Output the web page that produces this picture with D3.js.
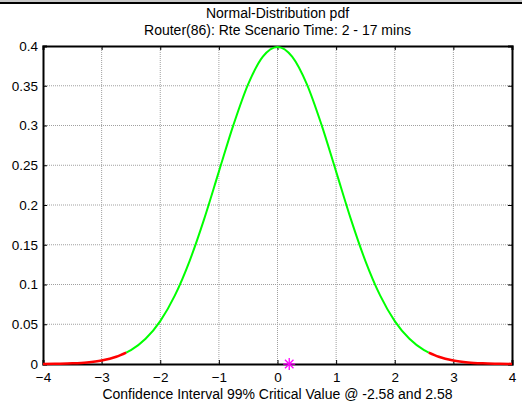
<!DOCTYPE html>
<html>
<head>
<meta charset="utf-8">
<script src="https://cdn.jsdelivr.net/npm/d3@7"></script>
<style>
  body { margin: 0; background: #fff; }
  svg { display: block; font-family: "Liberation Sans", Arial, sans-serif; }
</style>
</head>
<body>
<div id="chart"></div>
<script>
// values (pdf of the standard normal)
const xValues = [-4, -3.75, -3.5, -3.25, -3, -2.75, -2.58, -2.5, -2.25, -2, -1.75, -1.5, -1.25, -1, -0.75, -0.5, -0.25,
  0, 0.25, 0.5, 0.75, 1, 1.25, 1.5, 1.75, 2, 2.25, 2.5, 2.58, 2.75, 3, 3.25, 3.5, 3.75, 4];
const pdfValues = [0.0001, 0.0004, 0.0009, 0.002, 0.0044, 0.0091, 0.0143, 0.0175, 0.0317, 0.054, 0.0863, 0.1295, 0.1826, 0.242, 0.3011, 0.3521, 0.3867,
  0.3989, 0.3867, 0.3521, 0.3011, 0.242, 0.1826, 0.1295, 0.0863, 0.054, 0.0317, 0.0175, 0.0143, 0.0091, 0.0044, 0.002, 0.0009, 0.0004, 0.0001];
const criticalValues = [-2.58, 2.58];
const markerPoint = [0.2, 0];
const xTicks = [-4, -3, -2, -1, 0, 1, 2, 3, 4];
const yTicks = [0, 0.05, 0.1, 0.15, 0.2, 0.25, 0.3, 0.35, 0.4];
const titleLines = ["Normal-Distribution pdf", "Router(86): Rte Scenario Time: 2 - 17 mins"];
const xLabel = "Confidence Interval 99% Critical Value @ -2.58 and 2.58";

let margin = {top: 46, right: 10, bottom: 43, left: 43},
  width = 522 - margin.left - margin.right,
  height = 407 - margin.top - margin.bottom;

let svgRoot = d3.select("#chart").append("svg")
  .attr("width", 522).attr("height", 407);

// page border at the top of the crop
svgRoot.append("rect").attr("x", 0).attr("y", 0).attr("width", 522).attr("height", 2).attr("fill", "#c8c8c8");
svgRoot.append("rect").attr("x", 0).attr("y", 2).attr("width", 522).attr("height", 2).attr("fill", "#000");

let svg = svgRoot.append("g")
  .attr("transform", "translate(" + margin.left + "," + margin.top + ")");

let x = d3.scaleLinear().domain([-4, 4]).range([0, width]);
let y = d3.scaleLinear().domain([0, 0.4]).range([height, 0]);

// grid
svg.append("g").selectAll("line").data(xTicks.slice(1, -1)).join("line")
  .attr("x1", d => x(d)).attr("x2", d => x(d)).attr("y1", 0).attr("y2", height)
  .attr("stroke", "#a0a0a0").attr("stroke-width", 1).attr("stroke-dasharray", "1,1");
svg.append("g").selectAll("line").data(yTicks.slice(1, -1)).join("line")
  .attr("y1", d => y(d)).attr("y2", d => y(d)).attr("x1", 0).attr("x2", width)
  .attr("stroke", "#a0a0a0").attr("stroke-width", 1).attr("stroke-dasharray", "1,1");

// axes, MATLAB style ticks inside
let axB = svg.append("g").attr("transform", "translate(0," + height + ")")
  .call(d3.axisBottom(x).tickValues(xTicks).tickSize(-4).tickPadding(8).tickFormat(d3.format("d")));
let axT = svg.append("g")
  .call(d3.axisTop(x).tickValues(xTicks).tickSize(-4).tickFormat(""));
let axL = svg.append("g")
  .call(d3.axisLeft(y).tickValues(yTicks).tickSize(-4).tickPadding(5).tickFormat(d => d === 0 ? "0" : d3.format("")(d)));
let axR = svg.append("g").attr("transform", "translate(" + width + ",0)")
  .call(d3.axisRight(y).tickValues(yTicks).tickSize(-4).tickFormat(""));
[axB, axT, axL, axR].forEach(a => {
  a.select(".domain").attr("stroke", "#000").attr("stroke-width", 2);
  a.selectAll(".tick line").attr("stroke", "#000");
  a.selectAll("text").attr("font-size", 13.5).attr("fill", "#000").attr("font-family", "Liberation Sans, Arial, sans-serif");
});

// curve split at the critical values
let pts = xValues.map((v, i) => [v, pdfValues[i]]);
let left = pts.filter(d => d[0] <= criticalValues[0]);
let mid = pts.filter(d => d[0] >= criticalValues[0] && d[0] <= criticalValues[1]);
let right = pts.filter(d => d[0] >= criticalValues[1]);

let line = d3.line().x(d => x(d[0])).y(d => y(d[1])).curve(d3.curveMonotoneX);

svg.append("path").datum(mid).attr("fill", "none").attr("stroke", "#00ff00").attr("stroke-width", 2).attr("d", line);
[left, right].forEach(seg => {
  svg.append("path").datum(seg).attr("fill", "none").attr("stroke", "#ff0000").attr("stroke-width", 2.5).attr("d", line);
});

// marker star
let sx = x(markerPoint[0]), sy = y(markerPoint[1]), r = 6;
let star = svg.append("g").attr("stroke", "#ff00ff").attr("stroke-width", 1.3);
[0, 45, 90, 135].forEach(a => {
  let rad = a * Math.PI / 180;
  star.append("line")
    .attr("x1", sx - r * Math.cos(rad)).attr("y1", sy - r * Math.sin(rad))
    .attr("x2", sx + r * Math.cos(rad)).attr("y2", sy + r * Math.sin(rad));
});

// titles
svgRoot.selectAll(".title").data(titleLines).join("text")
  .attr("class", "title")
  .attr("x", margin.left + width / 2)
  .attr("y", (d, i) => 18 + i * 17)
  .attr("text-anchor", "middle")
  .attr("font-size", 14)
  .text(d => d);

svgRoot.append("text")
  .attr("x", margin.left + width / 2)
  .attr("y", 399)
  .attr("text-anchor", "middle")
  .attr("font-size", 14)
  .text(xLabel);
</script>
</body>
</html>
